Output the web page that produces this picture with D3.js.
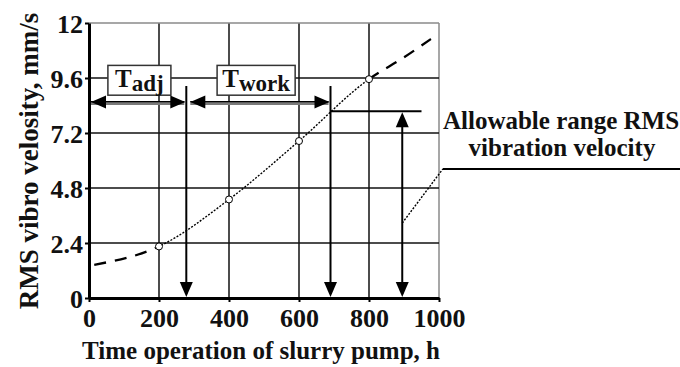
<!DOCTYPE html>
<html>
<head>
	<meta charset="utf-8">
	<script type="text/javascript" src="https://cdn.jsdelivr.net/npm/d3@7/dist/d3.min.js"></script>
	<title>RMS vibro velosity</title>
	<style>
		body { margin: 0; background: #fff; }
		text { font-family: "Liberation Serif", "Times New Roman", serif; font-weight: bold; fill: #111; }
	</style>
</head>
<body>
<script type="text/javascript">

	/*------ data ------*/

	var xTicks = [0, 200, 400, 600, 800, 1000];
	var yTicks = [0, 2.4, 4.8, 7.2, 9.6, 12];
	var yTickLabels = ['0', '2.4', '4.8', '7.2', '9.6', '12'];

	// trend curve of RMS vibro velocity
	var curveX = [15, 200, 400, 600, 800, 900, 977];
	var curveY = [1.45, 2.25, 4.3, 6.85, 9.55, 10.5, 11.3];

	// measured points (open markers)
	var pointX = [200, 400, 600, 800];
	var pointY = [2.25, 4.3, 6.85, 9.55];

	// annotation values, in chart units
	var tAdj = 278;        // end of adjustment period, h
	var tWork = 690;       // end of working period, h
	var tLimit = 895;      // position of allowable range arrow, h
	var vLimit = 8.15;     // allowable RMS level, mm/s
	var arrowV = 8.55;     // level of the period arrows
	var stemTopV = 9.25;   // top of the vertical period lines
	var limitEndX = 950;
	var boxNames = ['adj', 'work'];
	var boxX0 = [54, 366];
	var boxX1 = [234, 589];
	var boxTopV = 10.15;
	var boxBotV = 8.85;
	var leaderX = [895, 1011];
	var leaderY = [3.27, 5.63];

	/*----- layout -----*/

	var svgWidth = 680;
	var svgHeight = 367;
	var padL = 89, padR = 439, padT = 23, padB = 298;

	var svg = d3.select('body')
			.append('svg')
			.attr('width', svgWidth)
			.attr('height', svgHeight);

	var xScale = d3.scaleLinear().domain([0, 1000]).range([padL, padR]);
	var yScale = d3.scaleLinear().domain([0, 12]).range([padB, padT]);

	// grid
	var grid = svg.append('g');
	grid.selectAll('.vgrid')
		.data(xTicks.slice(1))
		.enter()
		.append('line')
		.attr('x1', function (d) { return xScale(d); })
		.attr('x2', function (d) { return xScale(d); })
		.attr('y1', padT)
		.attr('y2', padB)
		.attr('stroke', function (d) { return d == 1000 ? '#8a8a8a' : '#111'; })
		.attr('stroke-width', 1.5);

	grid.selectAll('.hgrid')
		.data(yTicks.slice(1))
		.enter()
		.append('line')
		.attr('x1', padL)
		.attr('x2', padR)
		.attr('y1', function (d) { return yScale(d); })
		.attr('y2', function (d) { return yScale(d); })
		.attr('stroke', function (d) { return d == 12 ? '#8a8a8a' : '#111'; })
		.attr('stroke-width', 1.5);

	// axes
	var xAxis = svg.append('g')
		.attr('transform', 'translate(0,' + padB + ')')
		.call(d3.axisBottom(xScale).tickValues(xTicks).tickSize(4).tickSizeOuter(0).tickPadding(6)
			.tickFormat(d3.format('d')));
	var yAxis = svg.append('g')
		.attr('transform', 'translate(' + padL + ',0)')
		.call(d3.axisLeft(yScale).tickValues(yTicks).tickSize(4).tickSizeOuter(0).tickPadding(2)
			.tickFormat(function (d, i) { return yTickLabels[i]; }));

	[xAxis, yAxis].forEach(function (ax) {
		ax.select('.domain').attr('stroke', '#000').attr('stroke-width', 3);
		ax.selectAll('.tick line').attr('stroke', '#000').attr('stroke-width', 2);
		ax.selectAll('.tick text')
			.style('font-size', '26px')
			.attr('fill', '#111');
	});
	xAxis.attr('font-family', null);
	yAxis.attr('font-family', null);
	xAxis.selectAll('.tick text').attr('dy', '0.72em');
	yAxis.selectAll('.tick text').attr('dy', '0.36em');

	// axis titles
	svg.append('text')
		.attr('x', (padL + padR) / 2 - 3)
		.attr('y', 359)
		.attr('text-anchor', 'middle')
		.style('font-size', '25px')
		.text('Time operation of slurry pump, h');

	svg.append('text')
		.attr('transform', 'translate(38,' + 161 + ') rotate(-90)')
		.attr('text-anchor', 'middle')
		.style('font-size', '27px')
		.text('RMS vibro velosity, mm/s');

	// curve, one path clipped three ways
	var pts = curveX.map(function (d, i) { return [d, curveY[i]]; });
	var lineGen = d3.line()
		.x(function (d) { return xScale(d[0]); })
		.y(function (d) { return yScale(d[1]); })
		.curve(d3.curveMonotoneX);

	var parts = [
		{ id: 'c1', from: 0, to: 200, width: 2.3, dash: '12,9' },
		{ id: 'c2', from: 200, to: 800, width: 1.4, dash: '2,1.5' },
		{ id: 'c3', from: 800, to: 1000, width: 2.3, dash: '12,9' }
	];
	var defs = svg.append('defs');
	parts.forEach(function (p) {
		defs.append('clipPath').attr('id', p.id)
			.append('rect')
			.attr('x', xScale(p.from))
			.attr('y', 0)
			.attr('width', xScale(p.to) - xScale(p.from))
			.attr('height', svgHeight);
		svg.append('path')
			.datum(pts)
			.attr('d', lineGen)
			.attr('fill', 'none')
			.attr('stroke', '#000')
			.attr('stroke-width', p.width)
			.attr('stroke-dasharray', p.dash)
			.attr('clip-path', 'url(#' + p.id + ')');
	});

	svg.selectAll('.pt')
		.data(pointX)
		.enter()
		.append('circle')
		.attr('cx', function (d) { return xScale(d); })
		.attr('cy', function (d, i) { return yScale(pointY[i]); })
		.attr('r', 3.5)
		.attr('fill', '#fff')
		.attr('stroke', '#000')
		.attr('stroke-width', 1);

	/*----- annotations -----*/

	function arrowHead(tx, ty, dir) {
		var len = 15, half = 6.5, p;
		if (dir == 'left') p = [[tx, ty], [tx + len, ty - half], [tx + len, ty + half]];
		if (dir == 'right') p = [[tx, ty], [tx - len, ty - half], [tx - len, ty + half]];
		if (dir == 'down') p = [[tx, ty], [tx - half, ty - len], [tx + half, ty - len]];
		if (dir == 'up') p = [[tx, ty], [tx - half, ty + len], [tx + half, ty + len]];
		svg.append('path')
			.attr('d', 'M' + p.join('L') + 'Z')
			.attr('fill', '#000');
	}

	function seg(x1, y1, x2, y2, w, col) {
		return svg.append('line')
			.attr('x1', x1).attr('y1', y1)
			.attr('x2', x2).attr('y2', y2)
			.attr('stroke', col || '#000')
			.attr('stroke-width', w);
	}

	// boxes with period names
	boxNames.forEach(function (name, i) {
		var bx = xScale(boxX0[i]), by = yScale(boxTopV);
		var bw = xScale(boxX1[i]) - bx, bh = yScale(boxBotV) - by;
		svg.append('rect')
			.attr('x', bx).attr('y', by)
			.attr('width', bw).attr('height', bh)
			.attr('fill', '#fff')
			.attr('stroke', '#333')
			.attr('stroke-width', 1.5);
		var t = svg.append('text')
			.attr('x', bx + bw / 2)
			.attr('y', by + 22)
			.attr('text-anchor', 'middle')
			.style('font-size', '25px');
		t.append('tspan').text('T');
		t.append('tspan').attr('dy', 4).style('font-size', '23px').text(name);
	});

	// period arrows
	var ay = yScale(arrowV);
	seg(xScale(0) + 2, ay + 1, xScale(tAdj) - 2, ay + 1, 4, '#7a7a7a');
	seg(xScale(0) + 2, ay - 0.5, xScale(tAdj) - 2, ay - 0.5, 1.2);
	seg(xScale(tAdj) + 4, ay + 1, xScale(tWork) - 2, ay + 1, 4, '#7a7a7a');
	seg(xScale(tAdj) + 4, ay - 0.5, xScale(tWork) - 2, ay - 0.5, 1.2);
	arrowHead(xScale(0) + 2, ay, 'left');
	arrowHead(xScale(tAdj) - 1, ay, 'right');
	arrowHead(xScale(tAdj) + 4, ay, 'left');
	arrowHead(xScale(tWork) - 1, ay, 'right');

	// vertical period lines
	[tAdj, tWork].forEach(function (t) {
		seg(xScale(t), yScale(stemTopV), xScale(t), yScale(0) - 4, 2);
		arrowHead(xScale(t), yScale(0) - 1, 'down');
	});

	// allowable level and its range arrow
	seg(xScale(tWork), yScale(vLimit), xScale(limitEndX), yScale(vLimit), 2);
	seg(xScale(tLimit), yScale(vLimit) + 4, xScale(tLimit), yScale(0) - 4, 2);
	arrowHead(xScale(tLimit), yScale(vLimit) + 1, 'up');
	arrowHead(xScale(tLimit), yScale(0) - 1, 'down');

	// leader to the note
	seg(xScale(leaderX[0]), yScale(leaderY[0]), xScale(leaderX[1]), yScale(leaderY[1]), 1.4)
		.attr('stroke-dasharray', '2,1.5');
	seg(xScale(leaderX[1]), yScale(leaderY[1]), svgWidth, yScale(leaderY[1]), 2);

	var note = svg.append('text')
		.attr('text-anchor', 'middle')
		.style('font-size', '25px');
	note.append('tspan').attr('x', 561).attr('y', 129).text('Allowable range RMS');
	note.append('tspan').attr('x', 562).attr('y', 156).text('vibration velocity');

</script>
</body>
</html>
